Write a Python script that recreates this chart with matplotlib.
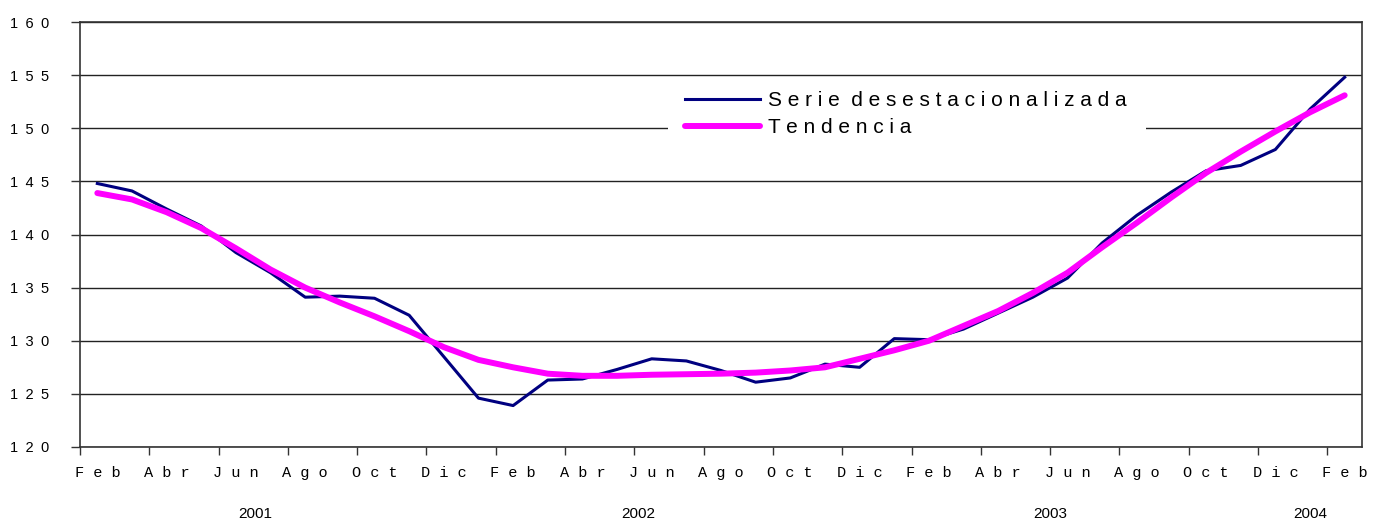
import numpy as np
import matplotlib
matplotlib.use("Agg")
import matplotlib.pyplot as plt
from matplotlib.patches import Rectangle

# months Feb 2001 .. Feb 2004
month_labels = ["Feb", "Abr", "Jun", "Ago", "Oct", "Dic"] * 3 + ["Feb"]
years = ["2001", "2002", "2003", "2004"]
year_pos = [4.55, 15.6, 27.5, 35.0]

serie = [144.8, 144.1, 142.4, 140.8, 138.3, 136.4, 134.1, 134.2, 134.0, 132.4,
         128.5, 124.6, 123.9, 126.3, 126.4, 127.3, 128.3, 128.1, 127.2, 126.1,
         126.5, 127.8, 127.5, 130.2, 130.1, 131.1, 132.6, 134.1, 135.9, 139.2,
         141.8, 144.0, 146.0, 146.5, 148.0, 151.8, 154.8]
tendencia = [143.9, 143.3, 142.1, 140.6, 138.7, 136.7, 135.0, 133.6, 132.3, 130.9,
             129.4, 128.2, 127.5, 126.9, 126.7, 126.7, 126.8, 126.85, 126.9, 127.0,
             127.2, 127.5, 128.3, 129.1, 130.0, 131.4, 132.8, 134.5, 136.4, 138.8,
             141.1, 143.5, 145.8, 147.8, 149.7, 151.5, 153.1]

x = np.arange(len(serie))

W, H = 1378, 520
L, R, T, B = 80, 1362, 22, 447
fig = plt.figure(figsize=(W/100, H/100), dpi=100)
ax = fig.add_axes([L/W, 1-B/H, (R-L)/W, (B-T)/H])

def fx(px):
    return (px - L) / (R - L)

def fy(py):
    return 1 - (py - T) / (B - T)

ax.set_xlim(-0.5, len(serie) - 0.5)
ax.set_ylim(120, 160)
ax.set_yticks(np.arange(120, 161, 5))
ax.set_yticklabels(["\u2002".join(str(v)) for v in range(120, 161, 5)])
for t in ax.get_yticklabels():
    t.set_fontfamily(["Liberation Sans", "DejaVu Sans"])
    t.set_fontsize(10.5)
ax.yaxis.grid(True, color="#222222", linewidth=1.0)
ax.set_axisbelow(True)

# category axis: ticks between months, labels on the months
ax.set_xticks(np.arange(-0.5, len(serie) - 0.5, 2))
ax.set_xticklabels([])
ax.set_xticks(x[::2], minor=True)
ax.set_xticklabels([" ".join(m) for m in month_labels], minor=True)
for t in ax.get_xticklabels(minor=True):
    t.set_fontfamily(["Liberation Mono", "DejaVu Sans Mono"])
    t.set_fontsize(11)
ax.tick_params(axis="x", which="minor", length=0, pad=14)
ax.tick_params(axis="x", which="major", length=6, width=1, color="#333333")
ax.tick_params(axis="y", length=6.5, width=1, color="#333333", pad=16)

for s in ax.spines.values():
    s.set_color("#333333")
    s.set_linewidth(1.2)

for yr, p in zip(years, year_pos):
    ax.text(p, fy(514), yr, transform=ax.get_xaxis_transform(), ha="center",
            va="center", fontsize=11, family="Liberation Sans")

l1, = ax.plot(x, serie, color="#000080", linewidth=2.2, zorder=3,
              solid_joinstyle="round")
l2, = ax.plot(x, tendencia, color="#FF00FF", linewidth=4.3, zorder=4,
              solid_capstyle="round", solid_joinstyle="round")

# white block behind the legend (hides the 150 gridline there)
ax.add_patch(Rectangle((fx(668), fy(140)), fx(1146) - fx(668), fy(88) - fy(140),
                       transform=ax.transAxes, facecolor="white",
                       edgecolor="none", zorder=1))

leg = ax.legend([l1, l2], ["S e r i e  d e s e s t a c i o n a l i z a d a",
                            "T e n d e n c i a"],
                loc="upper left", bbox_to_anchor=(fx(685), fy(91)),
                frameon=False, fontsize=15,
                handlelength=3.6, handletextpad=0.4, labelspacing=0.4,
                borderpad=0, borderaxespad=0)
for t in leg.get_texts():
    t.set_family("Liberation Sans")

fig.savefig("out.png", dpi=100)
